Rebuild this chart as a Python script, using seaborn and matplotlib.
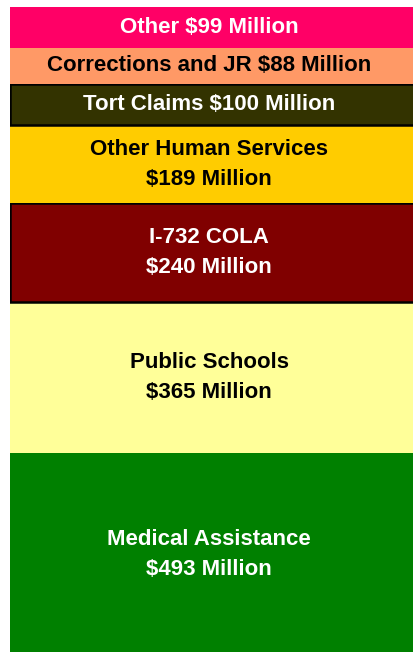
import matplotlib
matplotlib.use("Agg")
import matplotlib.pyplot as plt
import seaborn as sns
import pandas as pd
import numpy as np

# Segments listed bottom to top
categories = ["Medical Assistance", "Public Schools", "I-732 COLA", "Other Human Services",
              "Tort Claims", "Corrections and JR", "Other"]
values = [493, 365, 240, 189, 100, 88, 99]
labels = ["Medical Assistance\n$493 Million", "Public Schools\n$365 Million",
          "I-732 COLA\n$240 Million", "Other Human Services\n$189 Million",
          "Tort Claims $100 Million", "Corrections and JR $88 Million", "Other $99 Million"]
colors = ["#008000", "#FFFF99", "#800000", "#FFCC00", "#333300", "#FF9966", "#FF0066"]
text_colors = ["white", "black", "white", "black", "white", "black", "white"]
outlined = [False, False, True, False, True, False, False]

sns.set_style("white")
plt.rcParams["font.family"] = ["Liberation Sans", "DejaVu Sans"]

df = pd.DataFrame({"category": categories, "value": values})
df["bottom"] = df["value"].cumsum() - df["value"]
df["x"] = "budget"

fig = plt.figure(figsize=(4.14, 6.52), dpi=100)
# axes run a little past the right edge so the bar is cut off there
ax = fig.add_axes([10 / 414, 0, 424 / 414, 1])

for i, row in df.iterrows():
    sns.barplot(data=df.iloc[[i]], x="x", y="value", bottom=row["bottom"], color=colors[i],
                saturation=1, width=1.0, edgecolor="black" if outlined[i] else colors[i],
                linewidth=1.8 if outlined[i] else 0, ax=ax)
    ax.text(-0.03, row["bottom"] + row["value"] / 2, labels[i], ha="center", va="center",
            color=text_colors[i], fontsize=16, fontweight="bold", linespacing=1.55)

ax.set_xlim(-0.5, 0.5)
ax.set_ylim(9, 1591)
ax.axis("off")

fig.savefig("out.png", dpi=100)
